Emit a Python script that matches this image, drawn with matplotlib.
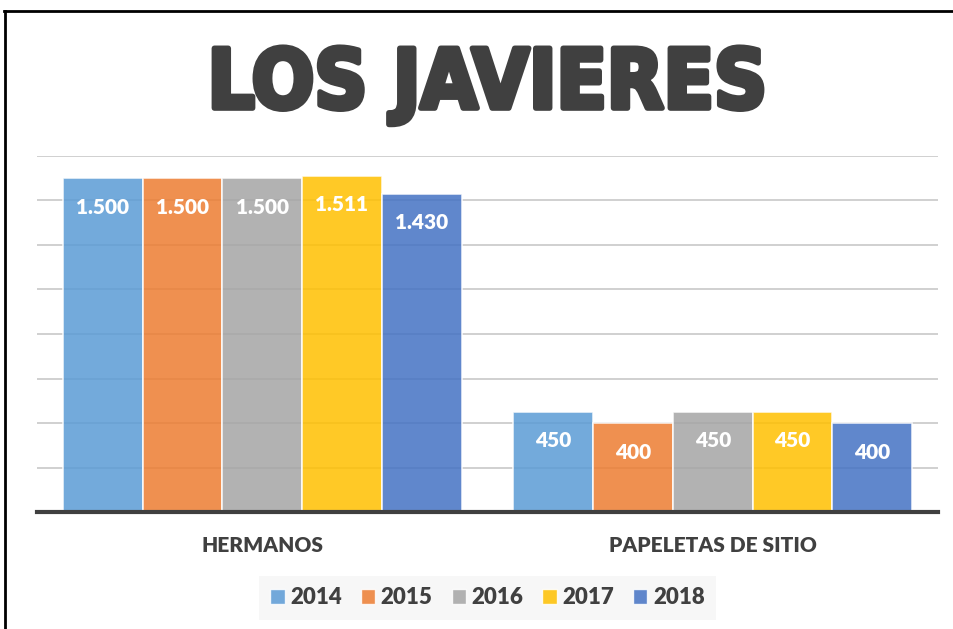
import matplotlib
matplotlib.use('Agg')
import matplotlib.pyplot as plt
import matplotlib.patheffects as pe
from matplotlib.patches import Patch
from matplotlib.lines import Line2D
import numpy as np

# Data
categories = ['HERMANOS', 'PAPELETAS DE SITIO']
years = ['2014', '2015', '2016', '2017', '2018']
values = {
    '2014': [1500, 450],
    '2015': [1500, 400],
    '2016': [1500, 450],
    '2017': [1511, 450],
    '2018': [1430, 400],
}
labels = {
    '2014': ['1.500', '450'],
    '2015': ['1.500', '400'],
    '2016': ['1.500', '450'],
    '2017': ['1.511', '450'],
    '2018': ['1.430', '400'],
}
colors = ['#5B9BD5', '#ED7D31', '#A5A5A5', '#FFC000', '#4472C4']

plt.rcParams['font.family'] = ['Lato', 'DejaVu Sans']
dark = '#404040'

fig = plt.figure(figsize=(9.54, 6.29), dpi=100)
ax = fig.add_axes([0.0388, 0.186, 0.9444, 0.566])

x = np.arange(len(categories))
width = 0.177
for i, year in enumerate(years):
    pos = x + (i - 2) * width
    bars = ax.bar(pos, values[year], width, color=colors[i], alpha=0.85,
                  edgecolor='white', linewidth=1.2, zorder=2)
    for b, lab in zip(bars, labels[year]):
        ax.annotate(lab, (b.get_x() + b.get_width() / 2, b.get_height()),
                    xytext=(0, -29), textcoords='offset pixels',
                    ha='center', va='center', color='white',
                    fontsize=15, fontweight='heavy', zorder=3)

ax.set_xlim(-0.5, 1.5)
ax.set_ylim(0, 1600)
ax.set_yticks(np.arange(200, 1601, 200))
ax.yaxis.grid(True, color='#C8C8C8', linewidth=1.2, zorder=1)
ax.set_axisbelow(True)
ax.tick_params(axis='y', left=False, labelleft=False)
ax.tick_params(axis='x', bottom=False, pad=14)
ax.set_xticks(x)
ax.set_xticklabels(categories, fontsize=15, fontweight='heavy', color=dark)
for s in ['top', 'right', 'left']:
    ax.spines[s].set_visible(False)
ax.spines['bottom'].set_color(dark)
ax.spines['bottom'].set_linewidth(3)
ax.spines['bottom'].set_zorder(4)

# Title
fig.text(0.511, 0.864, 'LOS JAVIERES', ha='center', va='center',
         fontsize=59, fontweight='heavy', color=dark,
         family='DejaVu Sans', fontstretch='condensed',
         path_effects=[pe.withStroke(linewidth=4, foreground=dark)])

# Legend
handles = [Patch(facecolor=c, edgecolor='white', alpha=0.85) for c in colors]
leg = fig.legend(handles, years, loc='center', ncol=5,
                 bbox_to_anchor=(0.511, 1 - 598 / 629),
                 frameon=True, fancybox=False, handlelength=0.65,
                 handleheight=0.65, handletextpad=0.25, columnspacing=0.85,
                 borderpad=0.5, borderaxespad=0,
                 prop={'weight': 'heavy', 'size': 16})
leg.get_frame().set_facecolor('#F5F5F5')
leg.get_frame().set_edgecolor('none')
for t in leg.get_texts():
    t.set_color(dark)

# Border
fig.add_artist(Line2D([4 / 954, 1], [1 - 11 / 629, 1 - 11 / 629],
                      color='black', linewidth=2, transform=fig.transFigure))
fig.add_artist(Line2D([5 / 954, 5 / 954], [0, 1 - 11 / 629],
                      color='black', linewidth=2, transform=fig.transFigure))

plt.savefig('out.png', dpi=100)
